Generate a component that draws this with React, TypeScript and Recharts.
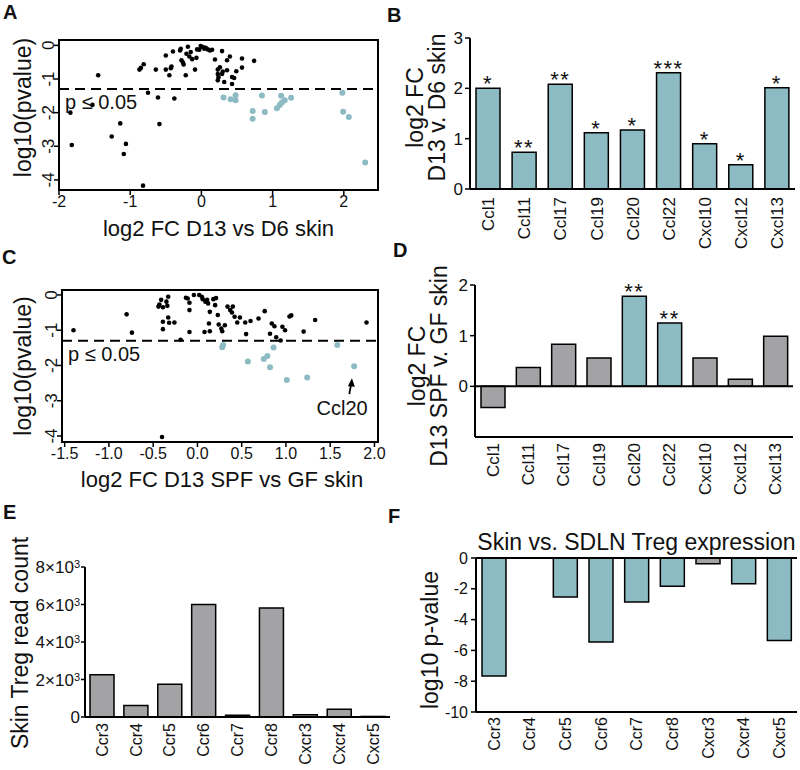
import React from 'react';
import {
  ScatterChart,
  Scatter,
  BarChart,
  Bar,
  Cell,
  XAxis,
  YAxis,
  ReferenceLine,
  ReferenceArea,
  ReferenceDot,
  LabelList,
} from 'recharts';

const FONT = '"Liberation Sans", Arial, Helvetica, sans-serif';
const INK = '#111';
const TEAL = '#8dbbc3';
const GREY = '#a3a3a6';
const P05 = -1.3; // log10(0.05)

// A: D13 vs D6 skin, all chemokine genes (log2 FC, log10 p)
const volcanoA = [
  { fc: -1.84, lp: -2.0 }, { fc: -1.82, lp: -2.96 }, { fc: -1.45, lp: -0.89 }, { fc: -1.53, lp: -1.77 },
  { fc: -1.14, lp: -2.32 }, { fc: -1.26, lp: -2.71 }, { fc: -1.06, lp: -2.93 }, { fc: -1.09, lp: -3.23 },
  { fc: -0.82, lp: -4.17 }, { fc: -0.87, lp: -0.72 }, { fc: -0.85, lp: -0.67 }, { fc: -0.81, lp: -0.56 },
  { fc: -0.75, lp: -1.41 }, { fc: -0.64, lp: -0.72 }, { fc: -0.61, lp: -1.55 }, { fc: -0.59, lp: -2.34 },
  { fc: -0.5, lp: -0.3 }, { fc: -0.5, lp: -0.72 }, { fc: -0.45, lp: -0.89 }, { fc: -0.38, lp: -1.58 },
  { fc: -0.43, lp: -0.68 }, { fc: -0.42, lp: -0.63 }, { fc: -0.4, lp: -0.18 }, { fc: -0.3, lp: -0.15 },
  { fc: -0.29, lp: -0.1 }, { fc: -0.28, lp: -0.44 }, { fc: -0.26, lp: -0.51 }, { fc: -0.25, lp: -0.57 },
  { fc: -0.22, lp: -0.89 }, { fc: -0.21, lp: -0.25 }, { fc: -0.19, lp: -0.04 }, { fc: -0.17, lp: -0.33 },
  { fc: -0.15, lp: -0.2 }, { fc: -0.13, lp: -0.41 }, { fc: -0.09, lp: -0.72 }, { fc: -0.07, lp: -0.37 },
  { fc: -0.06, lp: -0.12 }, { fc: -0.03, lp: -0.13 }, { fc: -0.01, lp: -0.02 }, { fc: 0.02, lp: -0.05 },
  { fc: 0.04, lp: -0.1 }, { fc: 0.06, lp: -0.07 }, { fc: 0.09, lp: -0.12 }, { fc: 0.12, lp: -0.15 },
  { fc: 0.15, lp: -0.13 }, { fc: 0.19, lp: -0.42 }, { fc: 0.29, lp: -0.17 }, { fc: 0.23, lp: -0.72 },
  { fc: 0.23, lp: -0.85 }, { fc: 0.24, lp: -0.95 }, { fc: 0.23, lp: -1.04 }, { fc: 0.26, lp: -0.65 },
  { fc: 0.29, lp: -0.85 }, { fc: 0.3, lp: -0.78 }, { fc: 0.32, lp: -1.09 }, { fc: 0.36, lp: -0.74 },
  { fc: 0.36, lp: -0.44 }, { fc: 0.4, lp: -0.33 }, { fc: 0.43, lp: -0.94 }, { fc: 0.43, lp: -1.15 },
  { fc: 0.46, lp: -0.97 }, { fc: 0.49, lp: -0.77 }, { fc: 0.57, lp: -0.66 }, { fc: 0.57, lp: -0.39 },
  { fc: 0.74, lp: -0.46 },
];
const volcanoASig = [
  { fc: 0.31, lp: -1.55 }, { fc: 0.41, lp: -1.6 }, { fc: 0.48, lp: -1.48 }, { fc: 0.48, lp: -1.63 },
  { fc: 0.72, lp: -1.95 }, { fc: 0.72, lp: -2.18 }, { fc: 0.85, lp: -1.49 }, { fc: 0.89, lp: -1.98 },
  { fc: 1.06, lp: -1.87 }, { fc: 1.1, lp: -1.77 }, { fc: 1.13, lp: -1.7 }, { fc: 1.17, lp: -1.63 },
  { fc: 1.12, lp: -1.5 }, { fc: 1.26, lp: -1.56 }, { fc: 1.98, lp: -1.41 }, { fc: 1.99, lp: -1.97 },
  { fc: 2.07, lp: -2.13 }, { fc: 2.3, lp: -3.48 },
];

// C: D13 SPF vs GF skin
const volcanoC = [
  { fc: -1.4, lp: -1.0 }, { fc: -0.8, lp: -0.55 }, { fc: -0.74, lp: -1.07 }, { fc: -0.43, lp: -0.27 },
  { fc: -0.44, lp: -0.33 }, { fc: -0.41, lp: -0.14 }, { fc: -0.39, lp: -0.35 }, { fc: -0.39, lp: -0.76 },
  { fc: -0.39, lp: -0.97 }, { fc: -0.35, lp: -0.19 }, { fc: -0.34, lp: -0.31 }, { fc: -0.33, lp: -0.05 },
  { fc: -0.33, lp: -0.64 }, { fc: -0.32, lp: -0.79 }, { fc: -0.26, lp: -0.78 }, { fc: -0.19, lp: -1.27 },
  { fc: -0.13, lp: -0.08 }, { fc: -0.11, lp: -0.1 }, { fc: -0.09, lp: -0.22 }, { fc: -0.09, lp: -0.43 },
  { fc: -0.09, lp: -1.05 }, { fc: -0.04, lp: 0 }, { fc: 0.02, lp: 0 }, { fc: 0.05, lp: -0.05 },
  { fc: 0.06, lp: -0.12 }, { fc: 0.08, lp: -1.05 }, { fc: 0.09, lp: -0.19 }, { fc: 0.11, lp: -0.14 },
  { fc: 0.12, lp: -0.24 }, { fc: 0.14, lp: -0.48 }, { fc: 0.13, lp: -0.81 }, { fc: 0.14, lp: -1.03 },
  { fc: 0.18, lp: -0.12 }, { fc: 0.2, lp: -0.29 }, { fc: 0.21, lp: -0.09 }, { fc: 0.23, lp: -0.57 },
  { fc: 0.24, lp: -0.84 }, { fc: 0.27, lp: -0.95 }, { fc: 0.28, lp: -1.03 }, { fc: 0.31, lp: -0.86 },
  { fc: 0.34, lp: -0.33 }, { fc: 0.37, lp: -0.43 }, { fc: 0.39, lp: -0.5 }, { fc: 0.4, lp: -0.33 },
  { fc: 0.42, lp: -0.62 }, { fc: 0.45, lp: -0.78 }, { fc: 0.48, lp: -0.64 }, { fc: 0.54, lp: -0.78 },
  { fc: 0.55, lp: -1.11 }, { fc: 0.6, lp: -0.74 }, { fc: 0.69, lp: -0.67 }, { fc: 0.76, lp: -0.46 },
  { fc: 0.82, lp: -1.1 }, { fc: 0.84, lp: -0.81 }, { fc: 0.87, lp: -0.89 }, { fc: 0.89, lp: -1.2 },
  { fc: 0.94, lp: -1.29 }, { fc: 0.96, lp: -0.9 }, { fc: 0.99, lp: -1.0 }, { fc: 1.04, lp: -0.61 },
  { fc: 1.06, lp: -0.58 }, { fc: 1.2, lp: -1.04 }, { fc: 1.33, lp: -0.71 }, { fc: 1.91, lp: -0.78 },
  { fc: -0.4, lp: -4.03 },
];
const volcanoCSig = [
  { fc: 0.29, lp: -1.42 }, { fc: 0.28, lp: -1.48 }, { fc: 0.57, lp: -1.89 }, { fc: 0.75, lp: -1.82 },
  { fc: 0.79, lp: -1.73 }, { fc: 0.82, lp: -2.05 }, { fc: 0.86, lp: -1.49 }, { fc: 1.01, lp: -2.41 },
  { fc: 1.24, lp: -2.34 }, { fc: 1.58, lp: -1.42 }, { fc: 1.77, lp: -2.02 },
];

// B / D: selected chemokines
const chemokines = ['Ccl1', 'Ccl11', 'Ccl17', 'Ccl19', 'Ccl20', 'Ccl22', 'Cxcl10', 'Cxcl12', 'Cxcl13'];
const fcD13vD6 = [2.0, 0.73, 2.08, 1.12, 1.17, 2.31, 0.9, 0.48, 2.01];
const starsD13vD6 = ['*', '**', '**', '*', '*', '***', '*', '*', '*'];
const fcSpfvGf = [-0.42, 0.37, 0.83, 0.56, 1.78, 1.25, 0.56, 0.14, 0.99];
const starsSpfvGf = ['', '', '', '', '**', '**', '', '', ''];

// E / F: chemokine receptors on skin Treg
const receptors = ['Ccr3', 'Ccr4', 'Ccr5', 'Ccr6', 'Ccr7', 'Ccr8', 'Cxcr3', 'Cxcr4', 'Cxcr5'];
const tregReads = [2250, 620, 1750, 6000, 90, 5820, 120, 420, 30];
const skinVsSdlnLogP = [-7.66, 0, -2.53, -5.45, -2.86, -1.84, -0.37, -1.67, -5.35];

const dataB = chemokines.map((name, i) => ({ name, value: fcD13vD6[i], stars: starsD13vD6[i] }));
const dataD = chemokines.map((name, i) => ({ name, value: fcSpfvGf[i], stars: starsSpfvGf[i] }));
const dataE = receptors.map((name, i) => ({ name, value: tregReads[i] }));
const dataF = receptors.map((name, i) => ({ name, value: skinVsSdlnLogP[i] }));

const tickLine = { stroke: '#000', strokeWidth: 1.5 };
const axisLine = { stroke: '#000', strokeWidth: 2 };

const smallDot = (p: any) => <circle cx={p.cx} cy={p.cy} r={2.3} fill="#000" />;
const tealDot = (p: any) => <circle cx={p.cx} cy={p.cy} r={3} fill={TEAL} />;

function RotYTick({ x, y, payload }: any) {
  const bx = x + 2;
  return (
    <text x={bx} y={y} transform={`rotate(-90, ${bx}, ${y})`} textAnchor="middle" fontSize={17} fill={INK}>
      {payload.value}
    </text>
  );
}

function VertTick({ x, y, payload, size = 17 }: any) {
  return (
    <text transform={`translate(${x},${y}) rotate(-90)`} textAnchor="end" dy="0.36em" fontSize={size} fill={INK}>
      {payload.value}
    </text>
  );
}

function SciTick({ x, y, payload }: any) {
  const v = payload.value;
  return (
    <text x={x} y={y} dy="0.36em" textAnchor="end" fontSize={17} fill={INK}>
      {v === 0 ? '0' : (
        <>
          {v / 1000}×10
          <tspan dy="-0.45em" fontSize={11}>3</tspan>
        </>
      )}
    </text>
  );
}

function VTitle({ x, y, lines, gap = 22, size = 23 }: any) {
  return (
    <g>
      {lines.map((t: string, i: number) => (
        <text
          key={t}
          transform={`translate(${x + i * gap},${y}) rotate(-90)`}
          textAnchor="middle"
          dominantBaseline="central"
          fontSize={size}
          fill={INK}
        >
          {t}
        </text>
      ))}
    </g>
  );
}

function HTitle({ x, y, text }: any) {
  return (
    <text x={x} y={y} textAnchor="middle" dominantBaseline="central" fontSize={22} fill={INK}>
      {text}
    </text>
  );
}

function pLabel(props: any) {
  const vb = props.viewBox || {};
  return (
    <text x={vb.x + 6} y={vb.y + 13} dominantBaseline="central" fontSize={20} fill={INK}>
      p ≤ 0.05
    </text>
  );
}

function StarLabel(props: any) {
  const vb = props.viewBox && props.viewBox.x != null ? props.viewBox : props;
  const { x, y, width } = vb;
  if (!props.value) return null;
  return (
    <text x={x + width / 2} y={y + 3} textAnchor="middle" fontSize={22} letterSpacing={1.5} fill={INK}>
      {props.value}
    </text>
  );
}

function Ccl20Note({ cx, cy }: any) {
  return (
    <g>
      <line x1={cx - 4.8} y1={cy + 28} x2={cx - 2.8} y2={cy + 17} stroke="#000" strokeWidth={1.8} />
      <path d={`M${cx - 2.2},${cy + 12} L${cx - 6.2},${cy + 20} L${cx + 0.8},${cy + 20.5} Z`} fill="#000" />
      <text x={cx - 12} y={cy + 42} textAnchor="middle" dominantBaseline="central" fontSize={20} fill={INK}>
        Ccl20
      </text>
    </g>
  );
}

export default function App() {
  return (
    <div
      style={{
        position: 'absolute',
        left: 0,
        top: 0,
        width: 800,
        height: 770,
        background: '#fff',
        fontFamily: FONT,
        overflow: 'hidden',
      }}
    >
      {/* A: volcano D13 vs D6 */}
      <div style={{ position: 'absolute', left: 0, top: 0 }}>
        <ScatterChart width={390} height={250} margin={{ top: 40, right: 12, bottom: 0, left: 0 }}>
          <XAxis
            type="number"
            dataKey="fc"
            domain={[-2, 2.48]}
            ticks={[-2, -1, 0, 1, 2]}
            interval={0}
            allowDataOverflow
            axisLine={false}
            tickLine={tickLine}
            tickSize={5}
            tickMargin={1}
            tick={{ fill: INK, fontSize: 16 }}
            height={60}
            label={() => <HTitle x={218.5} y={228} text="log2 FC D13 vs D6 skin" />}
          />
          <YAxis
            type="number"
            dataKey="lp"
            domain={[-4.3, 0.16]}
            ticks={[-4, -3, -2, -1, 0]}
            interval={0}
            allowDataOverflow
            axisLine={false}
            tickLine={tickLine}
            tickSize={5}
            tick={<RotYTick />}
            width={59}
            label={() => <VTitle x={23} y={107.5} lines={['log10(pvalue)']} />}
          />
          <ReferenceArea x1={-2} x2={2.48} y1={-4.3} y2={0.16} fill="none" stroke="#000" strokeWidth={2} />
          <ReferenceLine y={P05} stroke="#000" strokeWidth={2} strokeDasharray="10 6" label={pLabel} />
          <Scatter data={volcanoA} shape={smallDot} isAnimationActive={false} />
          <Scatter data={volcanoASig} shape={tealDot} isAnimationActive={false} />
        </ScatterChart>
      </div>

      {/* B: bar D13 v D6 */}
      <div style={{ position: 'absolute', left: 390, top: 0 }}>
        <BarChart width={410} height={250} data={dataB} margin={{ top: 38, right: 5, bottom: 0, left: 0 }}>
          <XAxis
            dataKey="name"
            type="category"
            interval={0}
            axisLine={axisLine}
            tickLine={false}
            tickSize={0}
            tickMargin={8}
            tick={<VertTick size={17} />}
            height={61}
          />
          <YAxis
            type="number"
            domain={[0, 3]}
            ticks={[0, 1, 2, 3]}
            interval={0}
            allowDataOverflow
            axisLine={axisLine}
            tickLine={tickLine}
            tickSize={5}
            tick={{ fill: INK, fontSize: 17 }}
            width={80}
            label={() => <VTitle x={25} y={107.5} lines={['log2 FC', 'D13 v. D6 skin']} />}
          />
          <Bar dataKey="value" fill={TEAL} stroke="#000" strokeWidth={1.5} barSize={24} isAnimationActive={false}>
            <LabelList dataKey="stars" content={StarLabel} />
          </Bar>
        </BarChart>
      </div>

      {/* C: volcano D13 SPF vs GF */}
      <div style={{ position: 'absolute', left: 0, top: 250 }}>
        <ScatterChart width={390} height={260} margin={{ top: 40, right: 12, bottom: 0, left: 0 }}>
          <XAxis
            type="number"
            dataKey="fc"
            domain={[-1.53, 2.04]}
            ticks={[-1.5, -1, -0.5, 0, 0.5, 1, 1.5, 2]}
            interval={0}
            allowDataOverflow
            axisLine={false}
            tickLine={tickLine}
            tickSize={5}
            tickMargin={1}
            tick={{ fill: INK, fontSize: 16 }}
            tickFormatter={(v: number) => v.toFixed(1)}
            height={68}
            label={() => <HTitle x={222} y={229} text="log2 FC D13 SPF vs GF skin" />}
          />
          <YAxis
            type="number"
            dataKey="lp"
            domain={[-4.17, 0.14]}
            ticks={[-4, -3, -2, -1, 0]}
            interval={0}
            allowDataOverflow
            axisLine={false}
            tickLine={tickLine}
            tickSize={5}
            tick={<RotYTick />}
            width={62}
            label={() => <VTitle x={23} y={116} lines={['log10(pvalue)']} />}
          />
          <ReferenceArea x1={-1.53} x2={2.04} y1={-4.17} y2={0.14} fill="none" stroke="#000" strokeWidth={2} />
          <ReferenceLine y={P05} stroke="#000" strokeWidth={2} strokeDasharray="10 6" label={pLabel} />
          <Scatter data={volcanoC} shape={smallDot} isAnimationActive={false} />
          <Scatter data={volcanoCSig} shape={tealDot} isAnimationActive={false} />
          <ReferenceDot x={1.77} y={-2.02} ifOverflow="visible" shape={Ccl20Note} />
        </ScatterChart>
      </div>

      {/* D: bar D13 SPF v GF */}
      <div style={{ position: 'absolute', left: 390, top: 250 }}>
        <BarChart width={410} height={260} data={dataD} margin={{ top: 35, right: 7, bottom: 0, left: 0 }}>
          <XAxis
            dataKey="name"
            type="category"
            interval={0}
            axisLine={axisLine}
            tickLine={false}
            tickSize={0}
            tickMargin={6}
            tick={<VertTick size={17} />}
            height={73}
          />
          <YAxis
            type="number"
            domain={[-1, 2]}
            ticks={[0, 1, 2]}
            interval={0}
            allowDataOverflow
            axisLine={axisLine}
            tickLine={tickLine}
            tickSize={5}
            tick={{ fill: INK, fontSize: 17 }}
            width={85}
            label={() => <VTitle x={27} y={116} lines={['log2 FC', 'D13 SPF v. GF skin']} />}
          />
          <ReferenceLine y={0} stroke="#000" strokeWidth={2} />
          <Bar dataKey="value" stroke="#000" strokeWidth={1.5} barSize={24} isAnimationActive={false}>
            {dataD.map((d) => (
              <Cell key={d.name} fill={d.stars ? TEAL : GREY} />
            ))}
            <LabelList dataKey="stars" content={StarLabel} />
          </Bar>
        </BarChart>
      </div>

      {/* E: skin Treg read count */}
      <div style={{ position: 'absolute', left: 0, top: 510 }}>
        <BarChart width={395} height={260} data={dataE} margin={{ top: 57, right: 5, bottom: 0, left: 0 }}>
          <XAxis
            dataKey="name"
            type="category"
            interval={0}
            axisLine={axisLine}
            tickLine={false}
            tickSize={0}
            tickMargin={6}
            tick={<VertTick size={16} />}
            height={53}
          />
          <YAxis
            type="number"
            domain={[0, 8000]}
            ticks={[0, 2000, 4000, 6000, 8000]}
            interval={0}
            allowDataOverflow
            axisLine={axisLine}
            tickLine={tickLine}
            tickSize={4}
            tickMargin={1}
            tick={<SciTick />}
            width={85}
            label={() => <VTitle x={20} y={133} lines={['Skin Treg read count']} />}
          />
          <Bar dataKey="value" fill={GREY} stroke="#000" strokeWidth={1.5} barSize={24} isAnimationActive={false} />
        </BarChart>
      </div>

      {/* F: skin vs SDLN Treg expression */}
      <div style={{ position: 'absolute', left: 395, top: 510 }}>
        <BarChart width={405} height={260} data={dataF} margin={{ top: 48, right: 3, bottom: 0, left: 0 }}>
          <XAxis
            dataKey="name"
            type="category"
            interval={0}
            axisLine={axisLine}
            tickLine={false}
            tickSize={0}
            tickMargin={5}
            tick={<VertTick size={16} />}
            height={58}
          />
          <YAxis
            type="number"
            domain={[-10, 0]}
            ticks={[0, -2, -4, -6, -8, -10]}
            interval={0}
            allowDataOverflow
            axisLine={axisLine}
            tickLine={tickLine}
            tickSize={5}
            tickMargin={3}
            tick={{ fill: INK, fontSize: 16 }}
            width={81}
            label={() => <VTitle x={35} y={130} lines={['log10 p-value']} />}
          />
          <ReferenceLine y={0} stroke="#000" strokeWidth={2} />
          <Bar dataKey="value" stroke="#000" strokeWidth={1.5} barSize={24} isAnimationActive={false}>
            {dataF.map((d) => (
              <Cell key={d.name} fill={d.value < P05 ? TEAL : GREY} />
            ))}
          </Bar>
        </BarChart>
      </div>

      {/* panel letters and F title */}
      <svg width={800} height={770} style={{ position: 'absolute', left: 0, top: 0, pointerEvents: 'none' }}>
        <g fontSize={20} fontWeight="bold" fill={INK}>
          <text x={3} y={19}>A</text>
          <text x={387} y={22}>B</text>
          <text x={2} y={264}>C</text>
          <text x={393} y={257}>D</text>
          <text x={3} y={519}>E</text>
          <text x={388} y={523}>F</text>
        </g>
        <text x={636.5} y={541.5} textAnchor="middle" dominantBaseline="central" fontSize={23} fill={INK}>
          Skin vs. SDLN Treg expression
        </text>
      </svg>
    </div>
  );
}
